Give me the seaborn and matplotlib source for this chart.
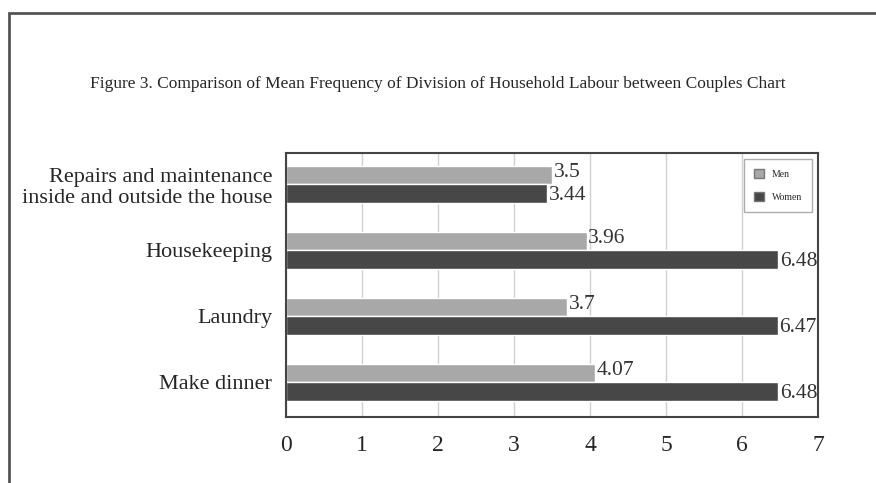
import pandas as pd
import numpy as np
import matplotlib.pyplot as plt
import seaborn as sns
from matplotlib.patches import Rectangle

categories = ['Repairs and maintenance\ninside and outside the house',
              'Housekeeping', 'Laundry', 'Make dinner']
men = [3.5, 3.96, 3.7, 4.07]
women = [3.44, 6.48, 6.47, 6.48]
men_labels = ['3.5', '3.96', '3.7', '4.07']
women_labels = ['3.44', '6.48', '6.47', '6.48']

df = pd.DataFrame({
    'Task': categories * 2,
    'Value': men + women,
    'Sex': ['Men'] * 4 + ['Women'] * 4,
})

sns.set_style('white')
plt.rcParams['font.family'] = ['Liberation Serif', 'DejaVu Serif']

fig = plt.figure(figsize=(8.76, 4.83), dpi=100)
ax = fig.add_axes([0.3265, 0.1366, 0.6073, 0.5466])

sns.barplot(data=df, y='Task', x='Value', hue='Sex', orient='h',
            palette={'Men': '#a8a8a8', 'Women': '#474747'},
            width=0.56, ax=ax, saturation=1)

ax.set_xlim(0, 7)
ax.set_ylim(3.53, -0.47)
ax.set_xticks(range(8))
ax.set_xlabel('')
ax.set_ylabel('')
ax.grid(axis='x', color='#d0d0d0', linewidth=1)
ax.set_axisbelow(True)
ax.tick_params(axis='x', labelsize=17, pad=13, length=0)
ax.tick_params(axis='y', labelsize=16, pad=10, length=0)
for s in ax.spines.values():
    s.set_color('#444444')
    s.set_linewidth(1.5)

# value labels next to bar ends
men_txt = ax.bar_label(ax.containers[0], labels=men_labels, fontsize=15.5, padding=1, color='#333333')
women_txt = ax.bar_label(ax.containers[1], labels=women_labels, fontsize=15.5, padding=1, color='#333333')
for t in men_txt:
    t.xyann = (1, 1.5)
for t in women_txt:
    t.xyann = (1, -1.5)

leg = ax.legend(loc='upper right', fontsize=7, fancybox=False, edgecolor='#999999',
                borderpad=1.0, labelspacing=1.4, handlelength=1.0, handleheight=1.0,
                bbox_to_anchor=(0.997, 0.995))
for h in leg.legend_handles:
    h.set_edgecolor('#777777')

fig.text(0.5, 0.826, 'Figure 3. Comparison of Mean Frequency of Division of Household Labour between Couples Chart',
         ha='center', va='center', fontsize=12.5)

fig.patches.append(Rectangle((9 / 876, -0.1), 1.2, 1 - 13 / 483 + 0.1, transform=fig.transFigure,
                             fill=False, edgecolor='#555555', linewidth=2))

fig.savefig('out.png', dpi=100)
